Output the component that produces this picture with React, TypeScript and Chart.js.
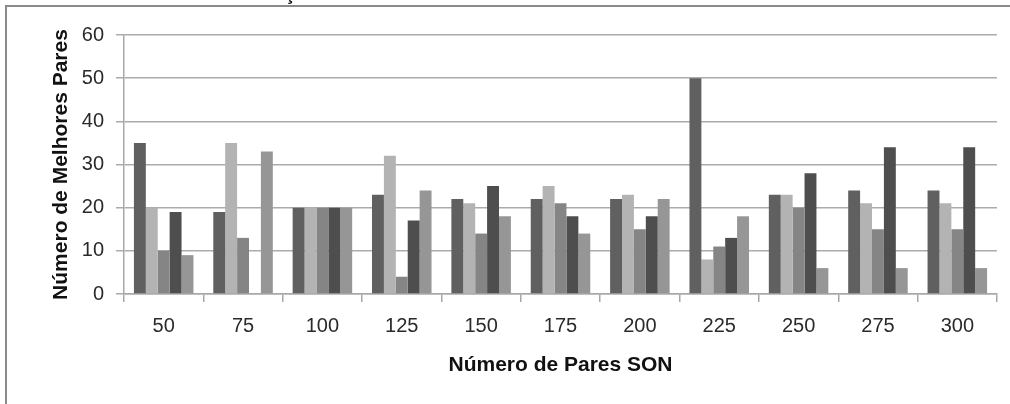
import React, { useEffect, useRef } from "react";
import { Chart, registerables } from "chart.js";

Chart.register(...registerables);

const categories = ["50", "75", "100", "125", "150", "175", "200", "225", "250", "275", "300"];
const series1 = [35, 19, 20, 23, 22, 22, 22, 50, 23, 24, 24];
const series2 = [20, 35, 20, 32, 21, 25, 23, 8, 23, 21, 21];
const series3 = [10, 13, 20, 4, 14, 21, 15, 11, 20, 15, 15];
const series4 = [19, 0, 20, 17, 25, 18, 18, 13, 28, 34, 34];
const series5 = [9, 33, 20, 24, 18, 14, 22, 18, 6, 6, 6];
const seriesColors = ["#606060", "#b3b3b3", "#858585", "#4e4e4e", "#969696"];
const yTitle = "Número de Melhores Pares";
const xTitle = "Número de Pares SON";
const clippedTitle = "ç";

const FONT = "'Liberation Sans', 'DejaVu Sans', sans-serif";
const BOLD_FONT = "'Liberation Sans', 'DejaVu Sans', sans-serif";

const framePlugin = {
  id: "frame",
  beforeDraw(chart: any) {
    const ctx = chart.ctx;
    ctx.save();
    ctx.strokeStyle = "#8a8a8a";
    ctx.lineWidth = 2;
    ctx.beginPath();
    ctx.moveTo(6, 404);
    ctx.lineTo(6, 6);
    ctx.lineTo(1010, 6);
    ctx.stroke();
    ctx.fillStyle = "#111";
    ctx.font = "bold 20px " + BOLD_FONT;
    ctx.textAlign = "center";
    ctx.textBaseline = "alphabetic";
    ctx.fillText(clippedTitle, 290, 0);
    ctx.restore();
  },
};

export default function App() {
  const ref = useRef<HTMLCanvasElement | null>(null);
  useEffect(() => {
    document.body.style.margin = "0";
    const all = [series1, series2, series3, series4, series5];
    const chart = new Chart(ref.current as HTMLCanvasElement, {
      type: "bar",
      data: {
        labels: categories,
        datasets: all.map((d, i) => ({
          label: "S" + (i + 1),
          data: d,
          backgroundColor: seriesColors[i],
          borderWidth: 0,
          barPercentage: 1,
          categoryPercentage: 0.75,
        })),
      },
      options: {
        animation: false,
        responsive: false,
        maintainAspectRatio: false,
        layout: { padding: { top: 35, right: 13, left: 0, bottom: 0 } },
        plugins: { legend: { display: false }, tooltip: { enabled: false } },
        scales: {
          x: {
            afterFit(scale: any) {
              scale.height = 110;
            },
            grid: {
              display: true,
              drawOnChartArea: false,
              drawTicks: true,
              tickLength: 8,
              color: "#a8a8a8",
              lineWidth: 1.5,
            },
            border: { color: "#a8a8a8", width: 1.5 },
            ticks: {
              color: "#2a2a2a",
              font: { family: FONT, size: 20 },
              padding: 12,
              maxRotation: 0,
            },
            title: {
              display: true,
              text: xTitle,
              color: "#111",
              font: { family: BOLD_FONT, size: 21, weight: "bold" },
              padding: { top: 0, bottom: 26 },
            },
          },
          y: {
            min: 0,
            max: 60,
            afterFit(scale: any) {
              scale.width = 124;
            },
            ticks: {
              stepSize: 10,
              color: "#2a2a2a",
              font: { family: FONT, size: 20 },
              padding: 12,
            },
            grid: {
              color: "#ababab",
              lineWidth: 1.5,
              tickLength: 8,
              drawTicks: true,
            },
            border: { color: "#a8a8a8", width: 1.5 },
            title: {
              display: true,
              text: yTitle,
              color: "#111",
              font: { family: BOLD_FONT, size: 21, weight: "bold" },
              padding: { top: 49, bottom: 0 },
            },
          },
        },
      },
      plugins: [framePlugin],
    });
    return () => chart.destroy();
  }, []);
  return (
    <div style={{ position: "absolute", left: 0, top: 0, width: 1010, height: 404, background: "#fff" }}>
      <canvas ref={ref} width={1010} height={404} style={{ width: 1010, height: 404 }} />
    </div>
  );
}
